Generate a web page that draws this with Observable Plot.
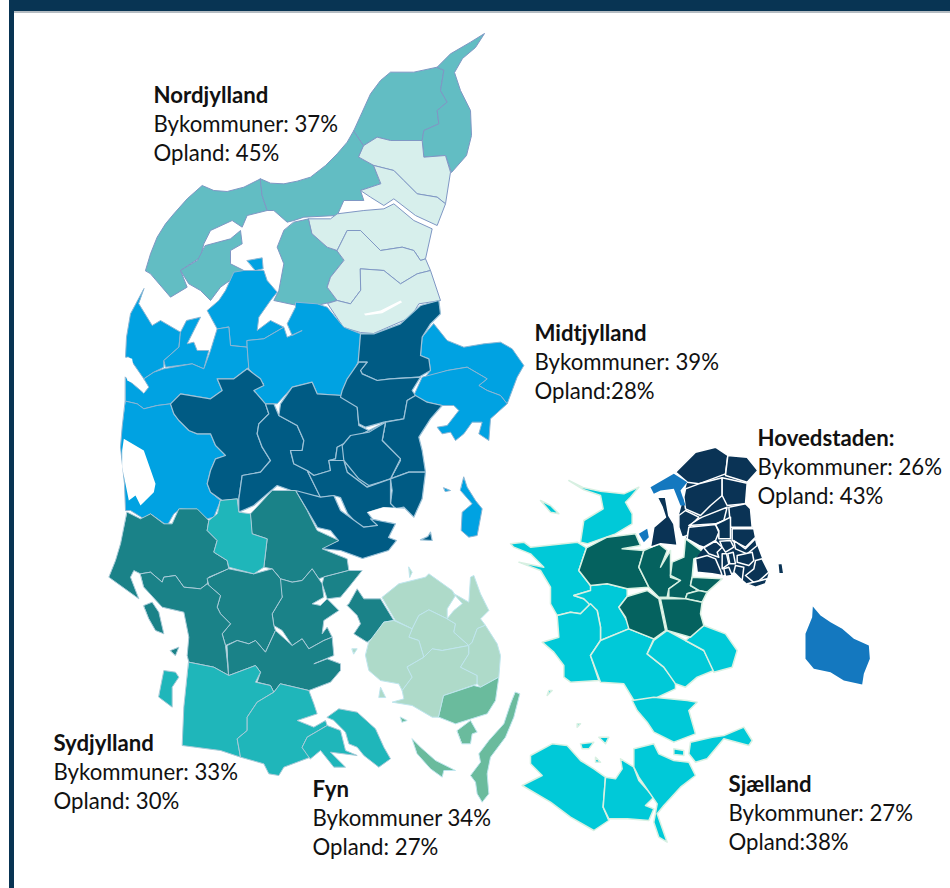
<!DOCTYPE html>
<html><head><meta charset="utf-8">
<script src="https://cdn.jsdelivr.net/npm/d3@7"></script>
<script src="https://cdn.jsdelivr.net/npm/@observablehq/plot@0.6"></script>
<style>
html,body{margin:0;padding:0;background:#fff}
#wrap{position:relative;width:950px;height:888px;overflow:hidden}
#top{position:absolute;left:9px;top:0;width:941px;height:11px;background:#083453;border-bottom:2px solid #b4bcc2}
#side{position:absolute;left:9px;top:0;width:5px;height:888px;background:#083453}
#chart{position:absolute;left:0;top:0}
</style></head><body><div id="wrap"><div id="chart"></div><div id="top"></div><div id="side"></div></div>
<script>
// Traced outlines: each sheet is a crop of the map, with 3 sheet units to one map unit.
const sheet = (x0, y0) => s => s.trim().split(/\s+/).map(p => { const [x, y] = p.split(",").map(Number); return [x0 + x / 3, y0 + y / 3]; });
const N = sheet(130, 30), M = sheet(110, 270), E = sheet(340, 290), S = sheet(100, 490), F = sheet(340, 560), Z = sheet(500, 470), H = sheet(640, 440), L = sheet(510, 680), B = sheet(780, 590);

const nordBy = [
  N("45,720 60,670 80,620 105,580 130,550 170,505 215,465 250,480 290,483 340,470 390,445 395,495 410,540 350,555 335,590 305,570 240,600 220,640 210,680 150,720 170,770 120,800 60,730"),
  N("225,645 300,625 330,600 335,640 300,660 300,700 340,720 270,770 240,810 210,780 175,760 150,720 200,690"),
  N("390,445 420,458 460,460 500,452 540,440 585,405 620,370 650,335 670,300 700,345 685,380 730,405 750,460 690,480 700,510 640,510 620,555 520,560 490,570 470,575 430,540 410,540 395,495"),
  N("670,300 695,245 720,190 750,150 780,125 850,125 920,110 940,120 930,180 950,215 920,240 925,280 880,300 875,330 780,330 740,320 700,345"),
  N("920,110 960,70 1020,35 1062,9 1035,51 996,84 972,126 990,180 1020,240 1023,315 1008,375 963,426 945,375 880,380 875,330 880,300 925,280 920,240 950,215 930,180 940,120"),
  N("490,575 535,565 545,610 590,650 620,660 640,690 600,740 590,770 620,810 560,825 540,840 500,825 430,810 445,780 460,700 440,650 460,600")
];
const nordOpland = [
  N("700,345 740,320 780,330 875,330 880,380 945,375 960,425 945,520 920,500 860,490 820,450 790,420 730,405 685,380"),
  N("730,405 790,420 820,450 860,490 920,500 945,520 920,585 855,555 790,505 760,525 720,500 690,480 750,460"),
  N("535,565 600,565 620,550 700,540 760,535 790,520 850,570 905,595 885,685 870,690 850,660 815,650 750,660 690,600 650,600 620,660 590,650 545,610"),
  N("620,660 650,600 690,600 750,660 815,650 850,660 870,690 885,685 900,720 860,730 810,760 760,720 690,715 690,780 660,820 620,810 590,770 600,740 640,690"),
  N("690,715 760,720 810,760 860,730 900,720 930,810 865,820 840,861 729,909 690,906 639,891 591,819 620,810 660,820 690,780")
];
const midtBy = [
  M("100,55 60,130 48,200 45,260 55,260 100,325 130,305 160,290 160,270 205,230 210,185 150,150 125,165 85,100"),
  M("320,175 290,120 325,90 345,60 370,5 400,0 460,0 470,30 500,65 480,90 445,140 440,180 480,150 520,170 460,205 410,210 410,230 360,225 355,170"),
  M("210,185 228,150 270,140 250,180 230,220 250,215 260,240 295,240 280,295 245,280 165,290 160,270 205,230"),
  M("45,320 55,330 100,368 115,350 100,325 130,305 160,295 245,280 280,295 300,240 320,175 355,170 360,225 410,230 415,290 370,325 320,325 335,360 300,385 210,370 180,400 140,405 100,415 80,400 45,392"),
  M("410,210 460,205 520,170 530,200 575,180 545,195 530,160 555,110 555,95 620,100 650,110 700,170 750,190 745,270 710,340 695,375 620,370 605,335 545,350 500,400 465,400 430,360 460,340 415,295 410,230"),
  M("45,392 80,400 100,415 140,405 180,400 190,430 205,450 235,480 260,490 300,490 315,525 345,555 315,565 300,600 290,640 300,665 330,690 310,740 290,745 260,720 210,715 190,730 170,765 120,730 100,745 60,720 45,720 42,640 30,530 35,470"),
  E("280,100 320,150 370,170 430,160 480,155 515,175 550,225 530,260 500,340 480,315 440,300 415,285 440,265 380,230 320,240 250,265 270,240 265,205 240,195 245,140 270,110"),
  E("220,315 245,260 320,240 380,230 440,265 415,285 440,300 480,315 500,340 450,385 445,450 415,430 425,395 395,395 370,430 345,450 330,425 305,430 290,410 320,405 355,360 340,345 305,345 260,335"),
  E("370,560 380,590 405,630 425,655 410,735 385,740 362,720 365,665 395,640 360,600"),
  E("310,592 330,600 315,603"),
  N("350,690 395,682 398,715 375,720")
];
const midtOpland = [
  M("180,400 210,370 300,385 335,360 320,325 370,325 410,295 450,325 460,345 430,360 465,400 475,430 445,460 440,490 455,530 480,570 450,605 395,615 385,685 335,690 300,665 290,640 300,600 315,565 345,555 315,525 300,490 260,490 235,480 205,450 190,430"),
  M("465,400 490,400 505,435 560,465 580,510 575,540 540,540 550,580 590,600 625,670 635,680 570,670 500,645 430,705 385,725 385,685 395,615 450,605 480,570 455,530 440,490 445,460 475,430"),
  M("505,435 510,400 545,350 605,335 620,370 695,375 740,405 745,465 775,480 700,520 680,530 675,565 655,570 660,600 610,615 590,600 550,580 540,540 575,540 580,510 560,465"),
  E("60,130 100,130 180,100 240,45 295,30 300,70 270,100 245,140 240,195 265,205 270,240 235,260 150,265 110,270 65,250 60,240 80,215 55,215 50,250"),
  E("0,320 50,350 55,400 75,410 130,395 190,385 200,330 225,315 215,300 240,260 150,265 110,270 65,250 60,240 80,215 55,215 20,265 5,300"),
  E("225,315 260,335 305,345 270,385 235,440 245,480 255,545 205,545 150,565 180,505 125,450 135,395 190,385 200,330"),
  M("775,480 825,455 815,510 870,570 840,625 770,650 710,605 700,570 655,570 675,565 680,530 700,520"),
  E("135,395 125,450 180,505 150,565 120,575 85,585 55,565 10,510 5,465 30,435 85,425"),
  E("150,565 205,545 255,545 245,625 220,680 190,650 165,655 150,640 155,600"),
  M("610,615 660,600 655,570 700,570 710,605 770,650 840,625 840,699 855,714 879,714 819,711 771,726 801,765 750,771 711,729 690,681 669,675 630,681 590,600"),
  S("585,0 660,20 700,15 720,60 790,110 831,105 810,85 885,100 864,141 888,150 864,180 786,204 720,180 660,174 714,150 690,120 651,111 621,60"),
  E("270,725 275,750 240,748 262,738")
];
const sydOpland = [
  S("80,65 120,85 150,70 190,100 215,100 235,55 290,55 325,90 320,120 350,150 340,185 380,210 385,235 325,260 320,280 300,295 250,290 225,255 190,260 185,275 150,245 120,250 100,240 90,260 115,325 25,260 45,210 60,160"),
  S("450,70 515,0 585,0 620,60 650,120 715,150 665,175 740,205 745,240 670,260 655,265 635,235 605,270 575,275 540,265 515,235 490,230 500,145 455,130"),
  S("745,240 785,240 745,290 720,320 680,325 665,280 670,260"),
  S("515,235 540,265 575,275 605,270 635,235 655,265 665,280 670,320 635,340 660,345 680,325 715,360 670,390 665,430 680,410 695,440 670,450 625,475 605,445 575,465 545,420 520,405 515,370 545,320"),
  S("385,235 460,250 515,235 540,265 545,320 515,370 520,405 525,420 495,485 465,450 445,460 410,450 375,465 365,430 390,400 360,370 350,350 360,315 325,285 320,265"),
  S("120,250 150,245 185,275 190,260 225,255 250,290 300,295 320,280 360,315 350,350 360,370 390,400 365,430 375,465 385,555 340,530 265,515 260,495 265,440 250,365 185,350 130,290"),
  S("380,465 410,450 445,460 465,450 495,485 525,420 575,465 605,445 625,475 670,450 695,440 700,495 640,520 680,505 720,520 720,540 690,575 625,600 540,580 520,605 510,585 470,575 480,545 465,525 385,555"),
  S("745,340 770,295 790,325 840,325 880,390 850,395 820,440 800,455 760,430 780,400 770,375 740,345"),
  S("130,345 155,335 175,365 190,430 165,420 145,385"),
  S("210,480 235,470 225,495")
];
const sydBy = [
  S("360,30 410,25 415,65 450,70 455,130 500,145 490,230 460,250 385,230 380,210 340,185 350,150 320,120 325,90 350,70"),
  S("265,515 340,530 385,555 465,525 480,545 465,575 510,585 520,605 470,635 440,680 440,720 410,745 420,800 360,780 245,765 250,650"),
  S("540,580 625,600 640,640 650,670 590,690 640,710 675,690 680,705 620,740 605,770 630,800 550,830 535,855 505,850 490,820 420,800 410,745 440,720 440,680 470,635 520,605"),
  S("680,680 715,655 770,665 825,715 850,770 870,805 835,830 790,795 770,770 745,760 735,725 700,690"),
  S("605,770 620,740 680,705 720,720 735,780 770,795 690,785 735,830 700,830 660,780 630,805"),
  S("180,590 190,540 225,545 235,560 215,590 215,650 175,620")
];
const fynBy = [
  F("125,110 175,70 255,50 265,40 335,90 345,105 320,145 320,175 265,148 235,165 215,205 165,180"),
  F("215,205 235,165 265,148 320,175 345,190 340,215 385,255 305,270 275,265 250,290 235,240 205,230"),
  F("85,245 130,185 160,180 215,205 205,230 235,240 250,290 200,320 215,350 185,390 175,370 120,360 85,330 75,285"),
  F("340,100 350,105 385,125 390,50 400,45 420,100 445,150 420,175 435,195 410,205 395,245 385,255 340,215 345,190 320,175 340,150 365,130"),
  F("250,290 275,265 305,270 385,255 385,280 360,320 410,345 410,370 310,405 295,470 275,470 215,435 155,425 190,415 185,390 215,350 200,320"),
  F("435,195 470,250 480,285 475,350 420,380 410,370 410,345 360,320 385,280 385,255 395,245 410,205"),
  F("205,20 215,35 208,50"),
  F("35,265 50,265 40,280"),
  F("115,410 120,380 135,410")
];
const fynOpland = [
  F("310,405 400,375 420,380 475,350 465,420 440,460 345,490 295,470"),
  F("350,510 390,480 410,515 395,520 390,550 365,550"),
  F("525,395 538,400 520,470 495,530 450,590 440,640 445,700 425,725 410,700 405,665 390,645 420,605 415,580 445,540 490,490 510,430"),
  F("215,535 240,560 285,600 345,630 310,630 305,650 270,625 230,580"),
  F("180,470 200,480 185,485")
];
const sjaellandBy = [
  Z("205,30 250,52 300,62 370,70 415,50 390,80 375,95 395,130 395,160 345,190 260,220 240,215 250,150 308,115 300,75 250,58"),
  Z("120,90 150,105 175,130 150,125"),
  Z("30,220 70,215 90,230 230,215 258,232 245,270 235,300 270,345 280,345 270,360 220,375 250,385 270,400 240,430 210,425 170,435 150,400 150,350 120,300 55,275 130,290 90,250 40,230"),
  Z("270,345 320,340 380,355 380,378 355,410 385,460 385,475 300,510 300,470 290,420 265,400 250,385 220,375 270,360"),
  Z("170,435 210,425 240,430 270,400 290,420 300,470 300,510 270,555 295,630 210,635 190,620 190,585 160,545 125,515 175,500"),
  Z("300,510 385,475 460,505 440,550 490,590 525,635 525,655 450,690 400,690 370,640 300,635 270,555"),
  Z("440,550 460,510 500,480 555,510 610,540 640,600 590,620 555,650 525,640 490,590"),
  Z("555,510 610,465 675,490 710,540 695,590 640,605 610,540"),
  L("365,60 430,50 530,60 560,65 535,90 555,160 490,185 430,155 410,125 380,90"),
  L("540,185 605,170 640,165 700,140 725,180 715,195 640,175 590,235 555,245 535,220"),
  L("490,205 520,210 520,225 490,222"),
  L("60,225 125,190 170,195 210,240 250,265 285,290 278,380 295,420 250,450 180,410 120,365 35,315 95,285 60,250"),
  L("285,290 315,295 335,265 330,235 370,260 385,300 430,350 405,375 430,385 415,420 350,415 295,415 278,380"),
  L("370,205 430,190 445,220 490,240 535,245 555,285 510,320 460,375 440,400 470,485 445,470 430,425 440,370 385,290 370,260"),
  L("210,190 250,185 235,205 215,205"),
  L("265,170 295,170 285,190"),
  L("255,230 270,245 255,245"),
  L("115,30 125,30 110,45"),
  L("200,130 210,130 200,140")
];
const sjaellandOpland = [
  Z("258,232 320,200 405,190 420,225 365,235 430,240 415,290 445,350 380,355 320,340 270,345 235,300 245,270"),
  Z("430,240 475,220 500,240 480,290 510,240 510,290 510,320 540,330 505,355 500,380 475,380 445,350 415,290"),
  Z("555,205 615,250 580,265 575,320 570,345 595,360 560,370 555,385 505,380 505,355 540,330 510,315 515,275 550,260"),
  Z("575,320 665,325 620,365 595,360 570,345"),
  Z("595,360 620,365 605,395 555,385 560,370"),
  Z("380,378 440,360 475,385 495,480 460,505 385,475 375,440 355,410"),
  Z("480,385 555,385 605,395 600,430 610,465 570,500 500,480")
];
const hovedBacking = [
  H("105,95 165,35 225,20 262,45 320,50 352,90 320,125 315,190 330,205 335,260 345,290 350,315 365,355 385,395 375,430 345,440 320,430 280,395 245,405 215,400 170,395 165,355 190,322 140,295 115,260 115,225 130,170 135,145 140,125")
];
const hovedBy = [
  H("105,95 165,35 225,20 262,45 255,100 175,130 140,125"),
  H("262,45 320,50 352,90 320,125 255,105"),
  H("50,170 75,170 85,225 100,250 110,315 60,310 30,320 40,260 75,230 65,200"),
  H("135,145 175,130 245,112 245,165 210,195 180,225 135,205 130,170"),
  H("245,112 320,128 315,190 260,195 245,165"),
  H("115,225 135,210 175,230 150,255 140,285 125,290 115,260"),
  H("185,230 260,200 250,240 225,250 145,255 175,235"),
  H("265,200 315,190 330,205 335,260 270,260"),
  H("145,260 225,252 235,275 225,300 190,320 175,315 140,295"),
  H("250,240 270,230 270,295 235,295 235,270 225,252"),
  H("275,265 340,265 345,290 315,320 275,300"),
  H("165,355 200,345 225,355 240,390 245,405 215,400 170,395"),
  H("190,322 225,302 245,320 230,335 235,350 205,340"),
  H("238,302 270,300 280,320 255,335 245,320"),
  H("280,300 315,325 345,295 350,315 320,340 285,325"),
  H("245,340 258,340 265,370 245,385"),
  H("262,340 278,335 285,370 268,370"),
  H("290,345 335,335 340,360 325,375 290,365"),
  H("285,375 310,380 305,420 280,395"),
  H("250,385 265,380 275,405 255,408"),
  H("345,360 365,355 385,395 345,430 315,405 340,385"),
  H("320,430 380,415 375,430 345,440"),
  H("412,370 425,368 430,400 415,400")
];
const hovedOpland = [
  H("30,140 100,100 140,125 120,150 135,195 120,195 100,145 60,150 40,160"),
  B("97,48 120,75 150,95 185,115 220,145 265,165 268,205 250,250 245,282 190,270 150,245 100,235 75,205 75,130 95,80"),
  Z("415,190 440,175 445,200 430,215")
];
const water = [
  M("40,505 100,540 135,640 130,665 90,705 75,675 55,690 35,590 35,540"),
  M("50,260 65,265 70,300 110,345 100,368 85,345 50,330"),
  E("70,70 120,60 180,30 185,35 125,68 75,75"),
  E("80,665 130,650 190,655 170,695 120,690")
];

const layers = [
  {shapes: nordBy, fill: "#62bdc3", stroke: "#7f97c4", width: 1},
  {shapes: nordOpland, fill: "#d7efec", stroke: "#7f97c4", width: 1},
  {shapes: midtBy, fill: "#00a2e2", stroke: "#8cb6d4", width: 1},
  {shapes: midtOpland, fill: "#005b84", stroke: "#9cc2d8", width: 1.2},
  {shapes: sydOpland, fill: "#1a8288", stroke: "#a8cbd8", width: 1},
  {shapes: sydBy, fill: "#1fb6ba", stroke: "#a8cbd8", width: 1},
  {shapes: fynBy, fill: "#aedac9", stroke: "#bfe6ee", width: 1},
  {shapes: fynOpland, fill: "#6abb9d", stroke: "#bfe6ee", width: 1},
  {shapes: sjaellandBy, fill: "#00c9d8", stroke: "#d8f0e2", width: 1.5},
  {shapes: sjaellandOpland, fill: "#05625f", stroke: "#d8f0e2", width: 1.5},
  {shapes: hovedBacking, fill: "#0a3355", stroke: "none", width: 0},
  {shapes: hovedBy, fill: "#0a3355", stroke: "#fff", width: 1.5},
  {shapes: hovedOpland, fill: "#1478bf", stroke: "none", width: 0}
];

const labelNames = ["Nordjylland", "Midtjylland", "Hovedstaden:", "Sjælland", "Sydjylland", "Fyn"];
const labelByk = ["Bykommuner: 37%", "Bykommuner: 39%", "Bykommuner: 26%", "Bykommuner: 27%", "Bykommuner: 33%", "Bykommuner 34%"];
const labelOpl = ["Opland: 45%", "Opland:28%", "Opland: 43%", "Opland:38%", "Opland: 30%", "Opland: 27%"];
const labelX = [153, 534, 757, 728, 53, 312];
const labelY = [95, 333, 438, 784, 743, 789];

const toFeature = ring => ({type: "Polygon", coordinates: [[...ring, ring[0]]]});
const rows = labelNames.map((name, i) => ({name, byk: labelByk[i], opl: labelOpl[i], x: labelX[i], y: labelY[i]}));
const textBase = {x: "x", textAnchor: "start", fontFamily: "Lato, Carlito, sans-serif", fill: "#111", fontSize: 22.2, lineAnchor: "middle"};

const plot = Plot.plot({
  width: 950, height: 888, margin: 0,
  projection: d3.geoIdentity(),
  style: {background: "transparent"},
  marks: [
    ...layers.map(l => Plot.geo(l.shapes.map(toFeature), {fill: l.fill, stroke: l.stroke, strokeWidth: l.width, strokeLinejoin: "round"})),
    Plot.geo(water.map(toFeature), {fill: "#fff", stroke: "none"}),
    Plot.text(rows, {...textBase, y: "y", text: "name", fontWeight: 700}),
    Plot.text(rows, {...textBase, y: d => d.y + 29, text: "byk"}),
    Plot.text(rows, {...textBase, y: d => d.y + 58, text: "opl"})
  ]
});
document.getElementById("chart").append(plot);
</script></body></html>
